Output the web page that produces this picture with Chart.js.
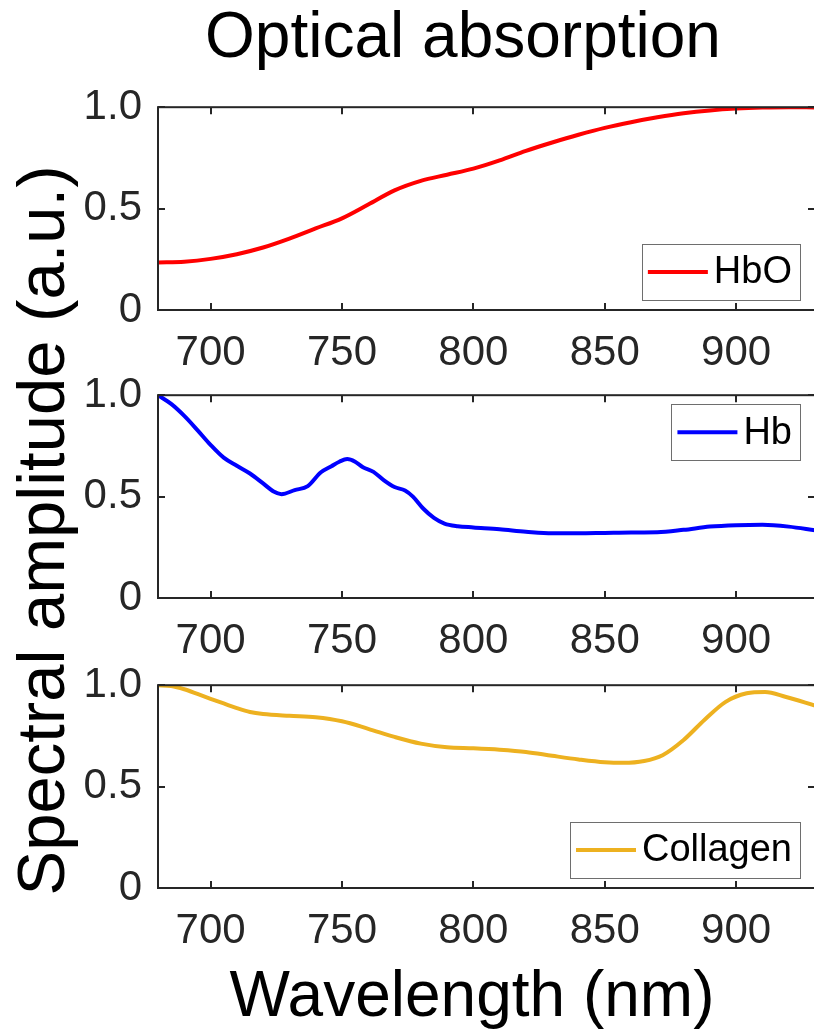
<!DOCTYPE html>
<html>
<head>
<meta charset="utf-8">
<script src="https://cdn.jsdelivr.net/npm/chart.js@4.4.1/dist/chart.umd.min.js"></script>
<style>
  html, body { margin: 0; padding: 0; background: #fff; overflow: hidden; width: 814px; height: 1030px; }
  canvas { position: absolute; left: 0; }
  .lbl { position: absolute; font-family: "Liberation Sans", Arial, sans-serif; color: #000; white-space: nowrap; text-align: center; }
</style>
</head>
<body>
<div class="lbl" style="left:63px;top:3px;width:800px;font-size:64px;line-height:64px;">Optical absorption</div>
<div class="lbl" style="left:72px;top:962px;width:800px;font-size:64px;line-height:64px;">Wavelength (nm)</div>
<div class="lbl" style="left:-360px;top:497px;width:800px;height:67px;font-size:67px;line-height:67px;transform:rotate(-90deg);">Spectral amplitude (a.u.)</div>
<canvas id="c0" width="830" height="319"></canvas>
<canvas id="c1" width="830" height="319"></canvas>
<canvas id="c2" width="830" height="319"></canvas>
<script>
// axis settings
var xMin = 680, xMax = 930;
var xTicks = [700, 750, 800, 850, 900];
var yTicks = [0, 0.5, 1];

// series names / colours
var names = ['HbO', 'Hb', 'Collagen'];
var colors = ['#ff0000', '#0000ff', '#edb120'];

// HbO
var hboWl = [680,690,700,710,720,730,740,750,760,770,780,790,800,810,820,830,840,850,860,870,880,890,900,910,920,930];
var hboVal = [0.234,0.238,0.252,0.275,0.308,0.352,0.402,0.452,0.52,0.59,0.637,0.667,0.697,0.738,0.785,0.826,0.864,0.898,0.926,0.95,0.97,0.984,0.993,0.998,1.0,0.999];

// Hb
var hbWl = [680,685,690,695,700,705,710,715,720,724,727,732,737,742,746,749,752,755,758,762,766,770,774,777,781,785,789,794,800,810,820,830,840,850,860,870,880,890,900,910,920,930];
var hbVal = [1.0,0.957,0.898,0.828,0.755,0.692,0.652,0.614,0.565,0.525,0.512,0.532,0.552,0.62,0.65,0.672,0.685,0.672,0.645,0.622,0.58,0.547,0.53,0.5,0.44,0.395,0.367,0.354,0.348,0.339,0.327,0.319,0.319,0.321,0.323,0.324,0.336,0.352,0.359,0.361,0.352,0.334];

// Collagen
var colWl = [680,685,690,695,700,705,710,715,720,730,740,750,760,770,780,790,800,810,820,830,840,850,857,865,872,880,888,896,904,911,919,930];
var colVal = [1.0,0.996,0.98,0.957,0.933,0.91,0.887,0.868,0.858,0.849,0.842,0.822,0.785,0.745,0.712,0.694,0.689,0.682,0.671,0.652,0.634,0.62,0.617,0.626,0.655,0.73,0.83,0.918,0.96,0.967,0.942,0.9];

var series = [[hboWl, hboVal], [hbWl, hbVal], [colWl, colVal]];
var areaTops = [107, 395, 685];
var legendAt = ['bottom', 'top', 'bottom'];

var FONT = '"Liberation Sans", Arial, sans-serif';
var AX = '#262626';

// box with inward ticks + legend
var boxPlugin = {
  id: 'box',
  afterDatasetsDraw: function (chart) {
    var ctx = chart.ctx, a = chart.chartArea;
    var xs = chart.scales.x, ys = chart.scales.y;
    ctx.save();
    ctx.strokeStyle = AX;
    ctx.lineWidth = 2;
    ctx.beginPath();
    xs.ticks.forEach(function (t) {
      var p = Math.round(xs.getPixelForValue(t.value));
      ctx.moveTo(p, a.bottom); ctx.lineTo(p, a.bottom - 7);
      ctx.moveTo(p, a.top); ctx.lineTo(p, a.top + 7);
    });
    ys.ticks.forEach(function (t) {
      var p = Math.round(ys.getPixelForValue(t.value));
      ctx.moveTo(a.left, p); ctx.lineTo(a.left + 7, p);
      ctx.moveTo(a.right, p); ctx.lineTo(a.right - 7, p);
    });
    ctx.stroke();
    ctx.strokeRect(a.left, a.top, a.right - a.left, a.bottom - a.top);

    // legend
    var i = chart.options.plugins.box.index;
    ctx.font = '38px ' + FONT;
    var tw = ctx.measureText(names[i]).width;
    var w = 6 + 60 + 6 + tw + 8, h = 56;
    var right = a.right - 15;
    var top = legendAt[i] === 'top' ? a.top + 9 : a.bottom - 10 - h;
    var left = right - w;
    ctx.fillStyle = '#fff';
    ctx.fillRect(left, top, w, h);
    ctx.lineWidth = 1;
    ctx.strokeStyle = '#6e6e6e';
    ctx.strokeRect(Math.round(left) + 0.5, Math.round(top) + 0.5, Math.round(w), h);
    ctx.strokeStyle = colors[i];
    ctx.lineWidth = 4;
    ctx.beginPath();
    ctx.moveTo(left + 6, top + h / 2);
    ctx.lineTo(left + 66, top + h / 2);
    ctx.stroke();
    ctx.fillStyle = '#000';
    ctx.textBaseline = 'middle';
    ctx.textAlign = 'left';
    ctx.fillText(names[i], left + 72, top + h / 2 + 1);
    ctx.restore();
  }
};

series.forEach(function (s, i) {
  var cv = document.getElementById('c' + i);
  cv.style.top = (areaTops[i] - 41) + 'px';
  var pts = s[0].map(function (x, k) { return { x: x, y: s[1][k] }; });
  new Chart(cv.getContext('2d'), {
    type: 'line',
    data: {
      datasets: [{
        label: names[i],
        data: pts,
        borderColor: colors[i],
        borderWidth: 4,
        pointRadius: 0,
        fill: false,
        cubicInterpolationMode: 'monotone'
      }]
    },
    options: {
      responsive: false,
      animation: false,
      devicePixelRatio: 1,
      layout: { padding: { top: 30, right: 15, left: 0, bottom: 0 } },
      plugins: {
        legend: { display: false },
        tooltip: { enabled: false },
        box: { index: i }
      },
      scales: {
        x: {
          type: 'linear', min: xMin, max: xMax,
          afterBuildTicks: function (sc) { sc.ticks = xTicks.map(function (v) { return { value: v }; }); },
          afterFit: function (sc) { sc.height = 75; },
          grid: { display: false, drawTicks: false },
          border: { display: false },
          ticks: { color: AX, font: { family: FONT, size: 42 }, padding: 18, maxRotation: 0, autoSkip: false,
                   callback: function (v) { return String(v); } }
        },
        y: {
          min: 0, max: 1,
          afterBuildTicks: function (sc) { sc.ticks = yTicks.map(function (v) { return { value: v }; }); },
          afterFit: function (sc) { sc.width = 158; },
          grid: { display: false, drawTicks: false },
          border: { display: false },
          ticks: { color: AX, font: { family: FONT, size: 42 }, padding: 16,
                   callback: function (v) { return v === 0 ? '0' : v.toFixed(1); } }
        }
      }
    },
    plugins: [boxPlugin]
  });
});
</script>
</body>
</html>
